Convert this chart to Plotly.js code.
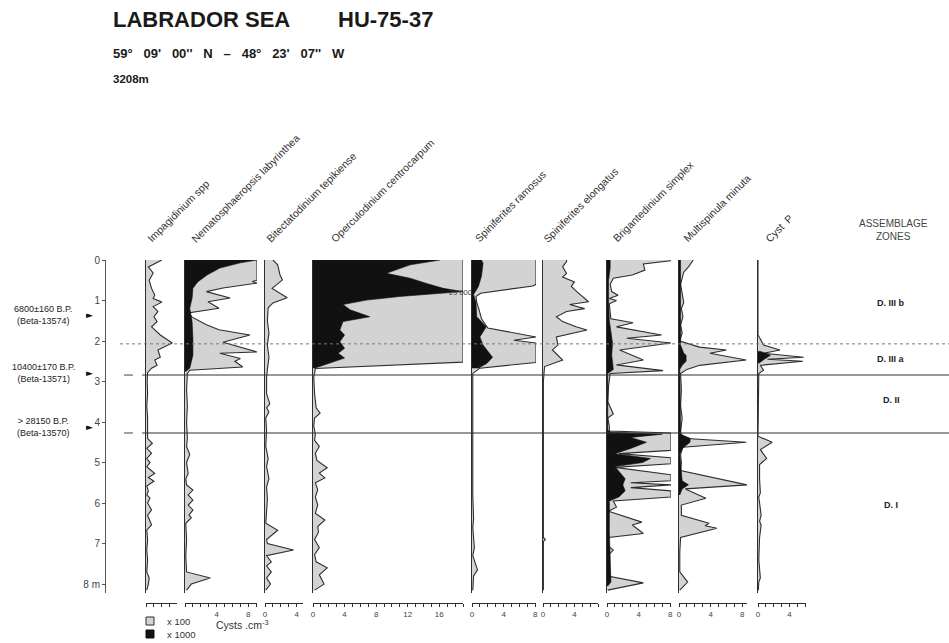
<!DOCTYPE html>
<html><head><meta charset="utf-8">
<script src="https://cdn.plot.ly/plotly-3.0.1.min.js"></script>
<style>html,body{margin:0;padding:0;background:#fff}#chart{width:949px;height:643px}</style>
</head><body><div id="chart"></div>
<script>
// ---------- DATA (depth in m, concentration in units of the panel scale) ----------
const speciesNames = ['Impagidinium spp','Nematosphaeropsis labyrinthea','Bitectatodinium tepikiense','Operculodinium centrocarpum','Spiniferites ramosus','Spiniferites elongatus','Brigantedinium simplex','Multispinula minuta','Cyst  P'];

const impDepth = [0,0.17,0.32,0.5,0.7,0.87,0.95,1.04,1.15,1.27,1.4,1.52,1.65,1.73,1.85,2.05,2.22,2.4,2.47,2.6,2.67,2.78,3.0,3.3,3.6,3.9,4.2,4.4,4.53,4.65,4.77,4.9,5.0,5.1,5.27,5.37,5.46,5.58,5.7,5.8,5.88,6.0,6.17,6.3,6.54,6.67,6.9,7.16,7.4,7.7,7.85,8.0,8.15];
const impVal   = [2.0,0.3,0.9,0.4,0.7,1.1,0.9,2.0,0.9,1.5,1.0,1.4,0.7,1.1,1.8,3.3,1.5,1.8,1.1,1.4,0.7,0.2,0.15,0.2,0.1,0.2,0.15,0.2,0.8,0.1,0.7,0.1,0.5,0.1,1.1,0.3,1.0,0.1,0.3,0.1,0.5,0.2,0.7,0.2,0.7,0.1,0.2,0.1,0.2,0.1,0.4,0.3,0.1];

const nemDepth = [0,0.5,0.53,0.57,0.69,0.78,0.94,1.03,1.19,1.3,1.4,1.6,1.72,1.85,2.03,2.27,2.3,2.43,2.5,2.64,2.72,2.8,3.2,3.6,4.0,4.4,4.6,4.8,5.0,5.27,5.4,5.55,5.68,5.8,5.93,6.05,6.17,6.3,6.36,6.5,6.9,7.3,7.7,7.85,8.0,8.15];
const nemVal   = [9.1,9.1,8.5,9.1,4.8,2.7,5.7,2.9,4.3,0.6,0.8,2.7,4.3,8.2,4.8,9.1,4.4,7.0,6.3,7.3,0.6,0.3,0.2,0.3,0.2,0.3,0.2,0.6,0.2,0.4,0.1,0.2,1.0,0.4,1.0,0.4,1.0,0.5,0.8,0.1,0.2,0.1,0.2,3.2,0.8,0.2];
const nemBlackDepth = [0,0.07,0.2,0.37,0.54,0.7,0.94,1.19,1.53,1.93,2.35,2.67,2.75];
const nemBlackVal   = [9.1,7.0,4.4,2.8,1.6,1.0,0.9,0.6,0.9,1.0,1.0,0.6,0.1];

const bitDepth = [0,0.12,0.37,0.49,0.7,0.93,1.06,1.18,1.5,1.8,2.1,2.4,2.7,2.9,3.3,3.55,3.65,3.75,3.9,4.2,4.6,4.9,5.1,5.4,5.6,5.9,6.2,6.5,6.67,6.9,7.0,7.16,7.3,7.45,7.55,7.7,7.85,8.0,8.15];
const bitVal   = [1.0,1.6,1.9,2.2,0.9,2.8,1.0,0.4,0.3,0.5,0.3,0.5,0.3,0.2,0.2,0.6,0.2,0.5,0.1,0.2,0.1,0.4,0.2,0.5,0.2,0.3,0.2,0.1,1.6,0.2,0.3,3.6,0.2,0.8,0.2,0.8,0.2,0.7,0.1];

const operDepth = [0,2.52,2.68,2.9,3.3,3.5,3.65,3.78,3.9,4.1,4.3,4.45,4.6,4.77,4.95,5.13,5.26,5.38,5.5,5.67,5.85,6.05,6.25,6.42,6.58,6.72,6.9,7.1,7.27,7.45,7.6,7.77,8.0,8.15];
const operVal   = [19,19,0.3,0.1,0.2,0.3,0.4,0.9,0.2,0.1,0.3,0.2,0.8,0.3,0.5,1.8,0.8,1.5,0.3,0.6,0.3,0.6,0.3,1.5,0.6,0.7,0.2,0.8,0.2,0.4,1.8,0.8,1.4,0.2];
const operBlackDepth = [0,0.12,0.33,0.45,0.58,0.7,0.78,0.82,0.9,0.99,1.1,1.23,1.4,1.52,1.73,1.85,2.02,2.18,2.3,2.42,2.55,2.67];
const operBlackVal   = [16.1,12.3,9.3,12.3,14.4,16.5,19,16,11,6.8,3.8,4.7,7.2,3.8,3.4,4.0,3.4,4.0,3.2,4.0,2.1,0.2];

const ramDepth = [0,0.6,0.64,0.82,0.9,1.05,1.23,1.45,1.68,1.9,1.98,2.05,2.53,2.67,2.8,3.5,4.2,5.0,5.8,6.4,6.6,7.1,7.3,7.65,7.8,8.15];
const ramVal   = [8.1,8.1,7.7,1.1,0.5,0.6,0.9,1.2,2.0,8.1,5.3,8.1,8.1,1.0,0.1,0.1,0.1,0.1,0.1,0.2,0.1,0.3,0.1,0.7,0.2,0.1];
const ramBlackDepth = [0,0.08,0.4,0.66,0.85,1.05,1.4,1.65,1.9,2.1,2.4,2.55,2.67];
const ramBlackVal   = [1.2,1.4,1.2,0.8,0.2,0.5,0.6,1.8,1.0,1.4,2.6,1.9,0.8];

const eloDepth = [0,0.04,0.17,0.33,0.42,0.54,0.65,0.78,1.03,1.1,1.2,1.27,1.4,1.52,1.65,1.73,1.9,2.1,2.22,2.47,2.63,3.0,4.0,5.0,6.0,6.85,6.9,6.95,7.5,8.15];
const eloVal   = [3.0,3.0,2.5,3.0,2.5,4.0,3.6,4.3,5.8,3.4,5.3,3.0,1.7,2.5,4.2,5.6,1.7,1.9,1.2,2.5,0.2,0.05,0.05,0.05,0.05,0.05,0.3,0.05,0.05,0.05];

const brigDepth = [0,0.02,0.1,0.25,0.37,0.45,0.6,0.78,0.87,0.95,1.0,1.08,1.3,1.45,1.55,1.65,1.85,1.93,2.05,2.22,2.47,2.59,2.73,2.8,3.1,3.5,3.8,3.9,4.1,4.22,4.27,4.45,4.7,4.78,4.88,5.03,5.12,5.3,5.45,5.5,5.55,5.62,5.7,5.85,5.95,6.1,6.2,6.47,6.54,6.75,6.85,7.05,7.16,7.3,7.8,7.97,8.15];
const brigVal   = [8.0,8.0,4.6,4.8,3.2,0.8,0.4,0.6,1.4,0.3,1.2,0.3,0.4,0.5,3.3,1.2,6.9,2.5,8.1,1.6,4.6,1.2,7.1,0.4,0.2,0.1,0.8,0.1,0.3,0.3,8.1,8.1,8.1,1.5,8.1,8.1,1.0,8.1,8.1,3.0,8.1,3.0,8.1,8.1,0.8,1.2,0.2,4.4,3.2,4.6,0.2,0.1,0.8,0.1,0.1,4.6,0.1];
const brigBlackDepth = [0,0.2,0.5,1.0,1.5,1.85,2.05,2.35,2.7,2.8,4.2,4.25,4.3,4.38,4.5,4.65,4.78,4.9,5.0,5.1,5.25,5.4,5.55,5.7,5.85,5.95,6.4,6.7,7.95,8.05];
const brigBlackVal   = [0.4,0.4,0.2,0.2,0.3,0.6,0.7,0.6,0.8,0.1,0.1,0.5,7.0,3.0,5.0,3.0,1.0,5.5,4.5,1.0,1.7,2.3,2.0,2.3,1.5,0.3,0.3,0.3,0.5,0.1];

const multiDepth = [0,0.17,0.3,0.6,1.05,1.2,1.4,1.6,1.8,2.0,2.15,2.22,2.3,2.47,2.6,2.7,2.8,3.2,3.6,3.9,4.25,4.4,4.5,4.62,4.8,5.0,5.2,5.55,5.65,5.88,6.05,6.3,6.5,6.56,6.62,6.85,7.2,7.7,7.95,8.15];
const multiVal   = [1.8,1.2,0.6,0.2,0.6,0.3,0.5,0.2,0.4,0.1,2.6,6.0,3.9,8.5,2.6,1.0,0.2,0.3,0.2,0.4,0.2,0.5,8.5,0.5,0.2,0.3,0.2,8.6,0.8,3.4,0.3,0.3,3.8,3.3,4.8,0.2,0.1,0.1,1.1,0.1];
const multiBlackDepth = [0,2.1,2.3,2.35,2.5,2.6,2.7,4.3,4.4,4.5,4.65,4.8,5.45,5.55,5.65,5.8];
const multiBlackVal   = [0.2,0.2,0.6,0.9,0.9,0.4,0.1,0.2,1.4,1.4,0.4,0.1,0.4,1.2,0.4,0.1];

const cystDepth = [0,1.85,1.95,2.1,2.22,2.3,2.4,2.45,2.5,2.6,2.72,2.8,4.35,4.5,4.68,4.9,5.05,5.4,5.75,5.85,6.3,6.45,6.55,6.85,7.4,7.85,7.95,8.15];
const cystVal   = [0,0,0.3,0.7,2.8,0.7,5.8,1.2,5.7,0.3,0.7,0.1,0,1.8,0.3,1.1,0.2,0.2,0.3,0.1,0.4,0.2,0.4,0.2,0.1,0.3,0.1,0.05];
const cystBlackDepth = [2.25,2.35,2.45,2.55];
const cystBlackVal   = [0.2,1.6,0.8,0.1];

// labelled ticks on each bottom scale
const labeledTicks = [[],[4,8],[0,4],[0,4,8,12,16],[0,4,8],[0,4],[0,4,8],[0,4,8],[0,4]];
const depthTicks = [0,1,2,3,4,5,6,7,8];
const depthTickText = ['0','1','2','3','4','5','6','7','8 m'];

const zoneBoundaries = [2.07, 2.84, 4.27];   // dotted, solid, solid
const zoneNames = ['D. III b','D. III a','D. II','D. I'];
const zoneLabelDepths = [1.05, 2.45, 3.45, 6.05];

const ageLabels = ['6800±160 B.P.<br>(Beta-13574)','10400±170 B.P.<br>(Beta-13571)','> 28150 B.P.<br>(Beta-13570)'];
const ageDepths = [1.36, 2.79, 4.12];

const legendLabels = ['x 100', 'x 1000'];

// ---------- LAYOUT HELPERS ----------
const W = 949, H = 643;
const fx = v => v / W;
const fy = v => 1 - v / H;
const yDomain = [fy(593), fy(260)];
const yRange = [8.22, 0];

const panels = [
  {gd: impDepth,  gv: impVal,  bd: null, bv: null, x0: 146, x1: 177, max: 3.9,  lx: 142},
  {gd: nemDepth,  gv: nemVal,  bd: nemBlackDepth, bv: nemBlackVal, x0: 185, x1: 257, max: 9.1, lx: 186},
  {gd: bitDepth,  gv: bitVal,  bd: null, bv: null, x0: 265, x1: 303, max: 4.8,  lx: 261},
  {gd: operDepth, gv: operVal, bd: operBlackDepth, bv: operBlackVal, x0: 313, x1: 463, max: 19, lx: 326},
  {gd: ramDepth,  gv: ramVal,  bd: ramBlackDepth, bv: ramBlackVal, x0: 472, x1: 536, max: 8.1, lx: 470},
  {gd: eloDepth,  gv: eloVal,  bd: null, bv: null, x0: 543, x1: 598, max: 7,    lx: 538},
  {gd: brigDepth, gv: brigVal, bd: brigBlackDepth, bv: brigBlackVal, x0: 607, x1: 671, max: 8.1, lx: 608},
  {gd: multiDepth,gv: multiVal,bd: multiBlackDepth, bv: multiBlackVal, x0: 679, x1: 747, max: 8.6, lx: 678},
  {gd: cystDepth, gv: cystVal, bd: cystBlackDepth, bv: cystBlackVal, x0: 758, x1: 806, max: 6.1, lx: 760}
];

const GRAY = '#d3d3d3', INK = '#2e2e2e', BLACK = '#111';
const traces = [];
const layout = {
  width: W, height: H,
  margin: {l: 0, r: 0, t: 0, b: 0},
  paper_bgcolor: '#fff', plot_bgcolor: 'rgba(0,0,0,0)',
  showlegend: false,
  font: {family: 'Liberation Sans, Arial, sans-serif', color: '#333'},
  annotations: [], shapes: []
};

panels.forEach((p, i) => {
  const n = i + 1;
  const xa = n === 1 ? 'x' : 'x' + n;
  const ya = n === 1 ? 'y' : 'y' + n;
  traces.push({type: 'scatter', mode: 'lines', x: p.gv, y: p.gd, xaxis: xa, yaxis: ya,
    fill: 'tozerox', fillcolor: GRAY, line: {color: INK, width: 1.1}, hoverinfo: 'skip'});
  if (p.bd) {
    traces.push({type: 'scatter', mode: 'lines', x: p.bv, y: p.bd, xaxis: xa, yaxis: ya,
      fill: 'tozerox', fillcolor: BLACK, line: {color: BLACK, width: 0.6}, hoverinfo: 'skip'});
  }
  const lab = labeledTicks[i];
  layout['xaxis' + (n === 1 ? '' : n)] = {
    domain: [fx(p.x0), fx(p.x1)], range: [0, p.max], anchor: 'free', position: fy(603),
    showline: true, linecolor: INK, linewidth: 1, ticks: 'outside', ticklen: 3, tickwidth: 1, tickcolor: INK,
    tickmode: 'array', tickvals: lab.length ? lab : [0], ticktext: lab.length ? lab.map(String) : [' '],
    showticklabels: lab.length > 0,
    minor: {ticks: 'outside', ticklen: 3, tickwidth: 1, tickcolor: INK, dtick: 1, tick0: 0, showgrid: false},
    tickfont: {size: 8, color: '#444'}, showgrid: false, zeroline: false, fixedrange: true
  };
  layout['yaxis' + (n === 1 ? '' : n)] = {
    domain: yDomain, range: yRange, anchor: xa,
    showline: true, linecolor: INK, linewidth: 1, ticks: '', showticklabels: false,
    showgrid: false, zeroline: false, fixedrange: true
  };
  layout.annotations.push({
    xref: 'paper', yref: 'paper', x: fx(p.lx), y: fy(247), xanchor: 'left', yanchor: 'bottom',
    text: speciesNames[i], textangle: -45, showarrow: false, font: {size: 10.5, color: '#333'}
  });
});

// depth axis
traces.push({type: 'scatter', mode: 'lines', x: [null], y: [null], xaxis: 'x', yaxis: 'y10', hoverinfo: 'skip'});
layout.yaxis10 = {
  domain: yDomain, range: yRange, anchor: 'free', position: fx(105), overlaying: 'y', side: 'left',
  showline: true, linecolor: '#555', linewidth: 1, ticks: 'outside', ticklen: 3, tickcolor: '#555',
  tickmode: 'array', tickvals: depthTicks, ticktext: depthTickText, tickfont: {size: 10, color: '#444'},
  showgrid: false, zeroline: false, fixedrange: true
};

// zone boundaries
layout.shapes.push({type: 'line', xref: 'paper', yref: 'y', x0: fx(120), x1: 1, y0: zoneBoundaries[0], y1: zoneBoundaries[0],
  line: {color: '#777', width: 1, dash: 'dot'}, layer: 'above'});
[zoneBoundaries[1], zoneBoundaries[2]].forEach(d => {
  layout.shapes.push({type: 'line', xref: 'paper', yref: 'y', x0: fx(124), x1: fx(145), y0: d, y1: d,
    line: {color: '#444', width: 1, dash: 'dash'}, layer: 'above'});
  layout.shapes.push({type: 'line', xref: 'paper', yref: 'y', x0: fx(145), x1: 1, y0: d, y1: d,
    line: {color: '#333', width: 1.1}, layer: 'above'});
});

// zone names
zoneNames.forEach((z, i) => layout.annotations.push({
  xref: 'paper', yref: 'y', x: fx(891), y: zoneLabelDepths[i], text: z, showarrow: false,
  xanchor: 'center', yanchor: 'middle', font: {size: 9, color: '#222', weight: 'bold'}
}));
layout.annotations.push({xref: 'paper', yref: 'paper', x: fx(893), y: fy(230), text: 'ASSEMBLAGE<br>ZONES',
  showarrow: false, xanchor: 'center', yanchor: 'middle', align: 'center', font: {size: 10, color: '#444'}});

// ages
ageLabels.forEach((a, i) => {
  layout.annotations.push({xref: 'paper', yref: 'y', x: fx(43), y: ageDepths[i], text: a, showarrow: false,
    xanchor: 'center', yanchor: 'middle', align: 'center', font: {size: 9, color: '#222'}});
  layout.annotations.push({xref: 'paper', yref: 'y', x: fx(89), y: ageDepths[i], text: '►', showarrow: false,
    xanchor: 'center', yanchor: 'middle', font: {size: 9, color: '#111', family: 'DejaVu Sans'}});
});

// 29 000 note
layout.annotations.push({xref: 'paper', yref: 'y', x: fx(447), y: 0.8, text: '29 000', showarrow: false,
  xanchor: 'left', yanchor: 'middle', font: {size: 7.5, color: '#444'}});

// titles
layout.annotations.push({xref: 'paper', yref: 'paper', x: fx(111), y: fy(20), text: 'LABRADOR SEA', showarrow: false,
  xanchor: 'left', yanchor: 'middle', font: {size: 22, color: '#1a1a1a', weight: 'bold'}});
layout.annotations.push({xref: 'paper', yref: 'paper', x: fx(336), y: fy(20), text: 'HU-75-37', showarrow: false,
  xanchor: 'left', yanchor: 'middle', font: {size: 22, color: '#1a1a1a', weight: 'bold'}});
layout.annotations.push({xref: 'paper', yref: 'paper', x: fx(111), y: fy(53), text: '59°   09\'   00\'\'   N   –   48°   23\'   07\'\'   W', showarrow: false,
  xanchor: 'left', yanchor: 'middle', font: {size: 13, color: '#1a1a1a', weight: 'bold'}});
layout.annotations.push({xref: 'paper', yref: 'paper', x: fx(111), y: fy(79), text: '3208m', showarrow: false,
  xanchor: 'left', yanchor: 'middle', font: {size: 11.5, color: '#1a1a1a', weight: 'bold'}});

// legend swatches + labels
layout.shapes.push({type: 'rect', xref: 'paper', yref: 'paper', x0: fx(146), x1: fx(154), y0: fy(625), y1: fy(617),
  fillcolor: GRAY, line: {color: INK, width: 1}});
layout.shapes.push({type: 'rect', xref: 'paper', yref: 'paper', x0: fx(146), x1: fx(154), y0: fy(638), y1: fy(630),
  fillcolor: BLACK, line: {color: BLACK, width: 1}});
legendLabels.forEach((t, i) => layout.annotations.push({xref: 'paper', yref: 'paper', x: fx(165), y: fy(621 + 13 * i), text: t,
  showarrow: false, xanchor: 'left', yanchor: 'middle', font: {size: 9.5, color: '#333'}}));
layout.annotations.push({xref: 'paper', yref: 'paper', x: fx(214), y: fy(624), text: 'Cysts .cm<sup>-3</sup>', showarrow: false,
  xanchor: 'left', yanchor: 'middle', font: {size: 10.5, color: '#333'}});

Plotly.newPlot('chart', traces, layout, {displayModeBar: false, staticPlot: true});
</script></body></html>
